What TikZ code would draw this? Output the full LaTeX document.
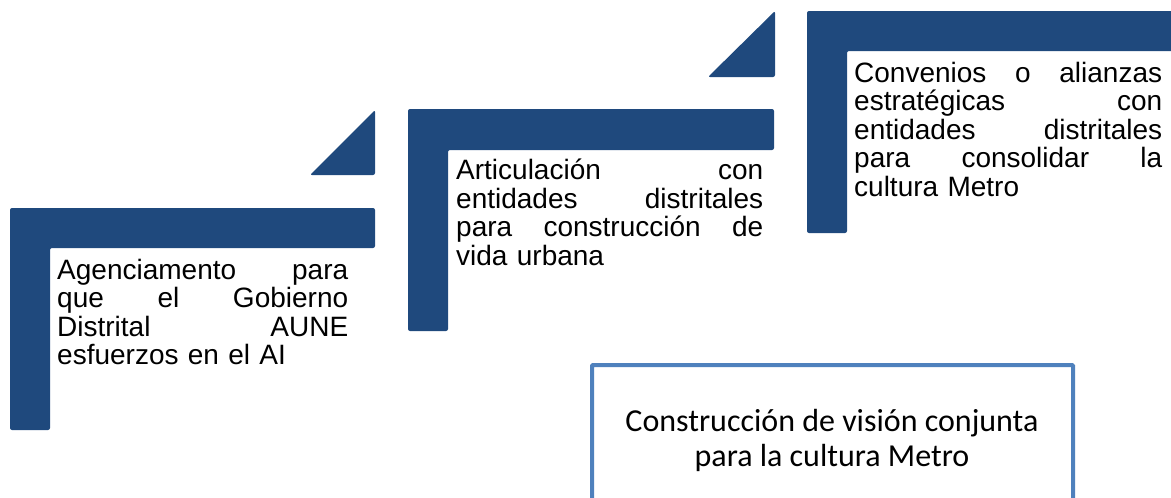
\documentclass[tikz,border=0pt]{standalone}
\usepackage{fontspec}
\setmainfont{Liberation Sans}
\newfontfamily\arialf{Liberation Sans}
\newfontfamily\calib{Carlito}
\definecolor{stepblue}{RGB}{31,73,125}
\definecolor{boxblue}{RGB}{79,129,189}
\begin{document}
\begin{tikzpicture}[x=1pt,y=-1pt,
  lshape/.style={fill=stepblue,rounded corners=2pt},
  steptext/.style={anchor=north west,inner sep=0pt,align=left,font=\arialf\fontsize{28}{28.5}\selectfont},
]
\useasboundingbox (0,0) rectangle (1171,498);
\clip (0,0) rectangle (1171,498);
% step 1
\fill[lshape] (10,208) -- (375,208) -- (375,248) -- (50,248) -- (50,430) -- (10,430) -- cycle;
\fill[lshape] (375,110) -- (375,175) -- (310,175) -- cycle;
\node[steptext,text width=291pt] (t1) at (57,259) {Agenciamento\hfill para\\que\hfill el\hfill Gobierno\\Distrital\hfill AUNE\\esfuerzos en el AI};
% step 2
\fill[lshape] (408,109) -- (774,109) -- (774,150) -- (448,150) -- (448,331) -- (408,331) -- cycle;
\fill[lshape] (775,11) -- (775,77) -- (708,77) -- cycle;
\node[steptext,text width=307pt] (t2) at (456,159) {Articulación\hfill con\\entidades\hfill distritales\\para\hfill construcción\hfill de\\vida urbana};
% step 3
\fill[lshape] (807,11) -- (1180,11) -- (1180,51) -- (847,51) -- (847,233) -- (807,233) -- cycle;
\node[steptext,text width=308pt] (t3) at (854,62) {Convenios\hfill o\hfill alianzas\\estratégicas\hfill con\\entidades\hfill distritales\\para\hfill consolidar\hfill la\\cultura Metro};
% bottom box
\draw[boxblue,line width=4pt,rounded corners=1pt] (592,510) -- (592,365) -- (1073,365) -- (1073,510);
\node[font=\calib\fontsize{32}{35}\selectfont,align=center,inner sep=0pt] (vision) at (832,440) {Construcción de visión conjunta\\para la cultura Metro};
\end{tikzpicture}
\end{document}
